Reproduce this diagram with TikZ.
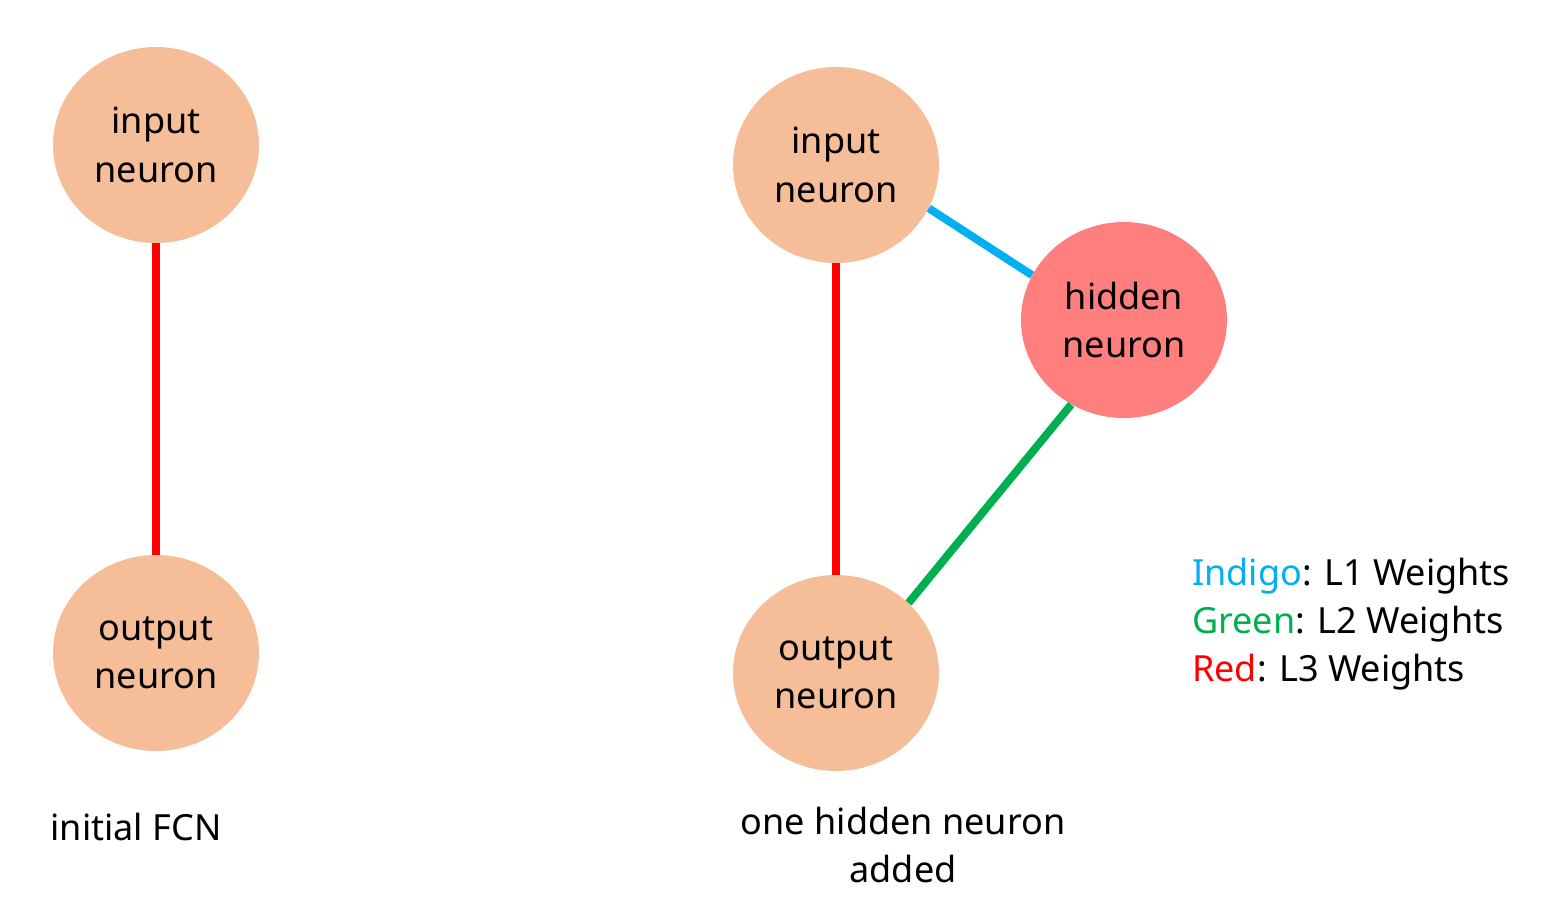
\documentclass[tikz,border=0pt]{standalone}
\usepackage{fontspec}
\setmainfont{Noto Sans}
\usetikzlibrary{shapes.geometric}
\definecolor{neuronfill}{HTML}{F5BE98}
\definecolor{hiddenfill}{HTML}{FF7F7F}
\definecolor{wone}{HTML}{00B0F0}
\definecolor{wtwo}{HTML}{00B050}
\definecolor{wthree}{HTML}{FF0000}
\tikzset{
	neuron/.style={ellipse, fill=neuronfill, minimum width=4.12cm, minimum height=3.92cm, inner sep=0pt, align=center, font=\fontsize{20.5}{27.5}\selectfont},
	weight/.style={line width=4.5pt},
	caption/.style={align=center, font=\fontsize{20.5}{27.5}\selectfont}
}

\begin{document}
\begin{tikzpicture}[x=0.02cm, y=-0.02cm]
	\useasboundingbox (0,0) rectangle (1549,917);

	\node[neuron] (in1) at (156,145) {input\\neuron};
	\node[neuron] (out1) at (156,653) {output\\neuron};
	\draw[weight, wthree] (in1) -- (out1);
	\node[caption] (cap1) at (136,827) {initial FCN};

	\node[neuron] (in2) at (836,165) {input\\neuron};
	\node[neuron] (out2) at (836,673) {output\\neuron};
	\node[neuron, fill=hiddenfill] (hid) at (1124,320) {hidden\\neuron};
	\draw[weight, wthree] (in2) -- (out2);
	\draw[weight, wone] (in2.-25) -- (hid.154);
	\draw[weight, wtwo] (hid.238) -- (out2.44);
	\node[caption] (cap2) at (903,845) {one hidden neuron\\added};

	\node[caption, anchor=west, align=left] (legend) at (1186,624) {\textcolor{wone}{Indigo}: L1 Weights\\\textcolor{wtwo}{Green}: L2 Weights\\\textcolor{wthree}{Red}: L3 Weights};
\end{tikzpicture}
\end{document}
